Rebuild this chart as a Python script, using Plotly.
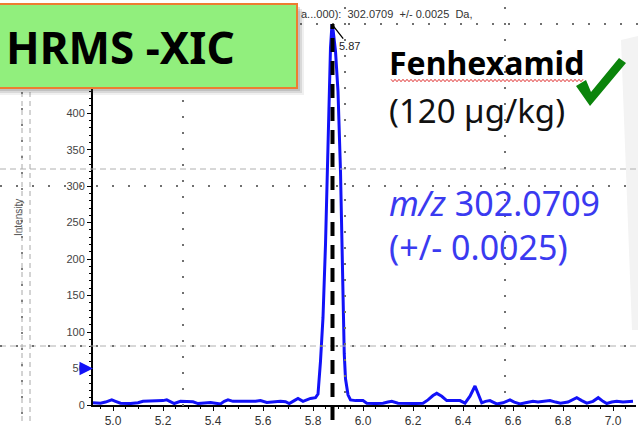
import plotly.graph_objects as go

# Extracted ion chromatogram, m/z 302.0709 (+/- 0.0025 Da)
time_min = [
    4.92, 4.95, 4.97, 4.995, 5.01, 5.03, 5.07, 5.10, 5.12, 5.15, 5.18, 5.20,
    5.215, 5.23, 5.245, 5.27, 5.30, 5.32, 5.34, 5.37, 5.39, 5.41, 5.43, 5.445,
    5.46, 5.48, 5.51, 5.54, 5.57, 5.59, 5.615, 5.64, 5.67, 5.69, 5.705, 5.725,
    5.74, 5.76, 5.775, 5.79, 5.81, 5.82, 5.83, 5.84, 5.85, 5.86, 5.87, 5.876,
    5.88, 5.89, 5.90, 5.91, 5.92, 5.925, 5.93, 5.94, 5.95, 5.97, 6.00, 6.015,
    6.05, 6.08, 6.10, 6.115, 6.14, 6.18, 6.21, 6.24, 6.26, 6.28, 6.295, 6.315,
    6.335, 6.36, 6.388, 6.408, 6.428, 6.448, 6.461, 6.475, 6.49, 6.508, 6.52,
    6.535, 6.56, 6.588, 6.605, 6.628, 6.65, 6.68, 6.70, 6.725, 6.748, 6.77,
    6.79, 6.82, 6.855, 6.875, 6.895, 6.92, 6.941, 6.96, 6.975, 6.995, 7.015,
    7.04, 7.06, 7.08,
]
intensity = [
    3, 2.5, 4, 7, 5, 2.5, 2, 3, 5, 5, 5, 6,
    7, 4, 2, 5, 5, 4.5, 2, 2.5, 3.5, 2.5, 1.5, 5,
    7, 5, 4.5, 5, 5, 6, 3.5, 4.5, 5, 4.5, 2, 6,
    9, 5, 7, 9, 10, 15, 60, 120, 220, 370, 490, 522,
    515, 485, 430, 320, 140, 70, 36, 14, 7, 6, 6, 2.5,
    2, 2.5, 4, 5, 2.5, 2, 2, 2.5, 7, 13, 16, 12,
    6, 6, 6, 2.5, 12, 26, 14, 3, 5, 6, 4,
    1.5, 3, 7, 4, 1.5, 3, 5, 4, 5, 6, 4,
    2.5, 4, 10, 6, 2.5, 5, 10, 5, 2, 4, 5,
    4, 5, 5,
]

peak_rt = 5.876
peak_label = "5.87"
x_ticks = [5.0, 5.2, 5.4, 5.6, 5.8, 6.0, 6.2, 6.4, 6.6, 6.8, 7.0]
y_ticks = [0, 50, 100, 150, 200, 250, 300, 350, 400]

W_PX, H_PX = 638, 425
L, R, T, B = 93, 2, 22, 20
PW, PH = W_PX - L - R, H_PX - T - B


def px(xp):
    return (xp - L) / PW


def py(yp):
    return 1 - (yp - T) / PH


shapes = []


def hline(y, x0, x1, dash, color="#9a9a9a", width=1):
    shapes.append(dict(type="line", xref="paper", yref="paper", x0=px(x0), x1=px(x1),
                       y0=py(y), y1=py(y), line=dict(color=color, width=width, dash=dash),
                       layer="above"))


def vline(x, y0, y1, dash, color="#9a9a9a", width=1):
    shapes.append(dict(type="line", xref="paper", yref="paper", x0=px(x), x1=px(x),
                       y0=py(y0), y1=py(y1), line=dict(color=color, width=width, dash=dash),
                       layer="above"))


DOTS = "2px,14px"
# dashed guide lines
hline(169, 0, 638, "6px,4px", "#b0b0b0")
hline(346, 0, 638, "6px,4px", "#b0b0b0")
vline(22, 92, 425, "5px,4px", "#a8a8a8")
vline(30, 92, 425, "5px,4px", "#a8a8a8")
# dotted guide lines
hline(24, 300, 638, DOTS, "#707070", 2)
hline(186, 0, 638, DOTS, "#707070", 2)
hline(346, 0, 638, DOTS, "#707070", 2)
vline(22, 92, 425, DOTS, "#808080", 2)
vline(183, 100, 415, DOTS, "#707070", 2)
vline(345, 7, 415, DOTS, "#707070", 2)
vline(505, 7, 415, DOTS, "#707070", 2)

# faint grey panel at right edge
shapes.append(dict(type="path", xref="paper", yref="paper", layer="below",
                   path=f"M {px(621)} {py(40)} L {px(638)} {py(36)} L {px(638)} {py(330)} "
                        f"L {px(632)} {py(330)} Z",
                   fillcolor="#f3f3f3", line=dict(width=0)))

# retention time marker
shapes.append(dict(type="line", xref="x", yref="paper", x0=peak_rt + 0.002, x1=peak_rt + 0.002,
                   y0=py(420), y1=py(24), line=dict(color="black", width=4, dash="14px,9px"),
                   layer="above"))

# box shadow
for off, op in [(7, 0.08), (5, 0.12), (3, 0.16)]:
    shapes.append(dict(type="rect", xref="paper", yref="paper", layer="above",
                       x0=px(-2), x1=px(297 + off), y0=py(4 + off), y1=py(88 + off),
                       fillcolor=f"rgba(60,60,60,{op})", line=dict(width=0)))
# title box
shapes.append(dict(type="rect", xref="paper", yref="paper", layer="above",
                   x0=px(-3), x1=px(297), y0=py(4), y1=py(88),
                   fillcolor="#91ef7d", line=dict(color="#ed7d31", width=2)))

# check mark
shapes.append(dict(type="path", xref="paper", yref="paper", layer="above",
                   path=f"M {px(576)} {py(86)} L {px(586)} {py(80)} L {px(591)} {py(92)} "
                        f"L {px(619)} {py(58)} L {px(626)} {py(63)} L {px(590)} {py(106)} Z",
                   fillcolor="#0b840b", line=dict(width=0)))

# wavy underline
pts = []
xw = 391.0
k = 0
while xw <= 583:
    pts.append(f"{px(xw)} {py(80.5 + (1.2 if k % 2 else -1.2))}")
    xw += 2.0
    k += 1
shapes.append(dict(type="path", xref="paper", yref="paper", layer="above",
                   path="M " + " L ".join(pts), line=dict(color="#e03030", width=1)))

fig = go.Figure()
fig.add_trace(go.Scatter(x=time_min, y=intensity, mode="lines",
                         line=dict(color="#1212f8", width=3), showlegend=False,
                         cliponaxis=True))


def label(x, y, text, font, xanchor="center", **kw):
    return dict(xref="paper", yref="paper", x=px(x), y=py(y), text=text,
                xanchor=xanchor, yanchor="middle", showarrow=False, font=font, **kw)


annotations = [
    label(120, 47, "<b>HRMS -XIC</b>", dict(family="Noto Sans", size=44, color="black")),
    label(299, 14, "a...000):  302.0709  +/- 0.0025  Da,",
          dict(family="Liberation Sans", size=11, color="#333333"), xanchor="left"),
    label(387, 63, "<b>Fenhexamid</b>", dict(family="Noto Sans", size=32, color="black"),
          xanchor="left"),
    label(387, 110, "(120 µg/kg)", dict(family="Noto Sans", size=33, color="#111111"),
          xanchor="left"),
    label(387, 203, "<i>m/z</i> 302.0709", dict(family="Noto Sans", size=34, color="#3a3af0"),
          xanchor="left"),
    label(387, 247, "(+/- 0.0025)", dict(family="Noto Sans", size=34, color="#3a3af0"),
          xanchor="left"),
    label(18, 218, "Intensity", dict(family="Liberation Sans", size=10, color="#555555"),
          textangle=-90),
    dict(xref="x", yref="y", x=peak_rt, y=max(intensity), ax=17, ay=22,
         text=peak_label, showarrow=True, arrowhead=0, arrowwidth=1.3,
         arrowcolor="black", standoff=2,
         font=dict(family="Liberation Sans", size=11, color="#222222")),
    dict(xref="x", yref="y", x=4.92, y=50, ax=-11, ay=0, text="", showarrow=True,
         arrowhead=2, arrowsize=0.9, arrowwidth=3, arrowcolor="#1212f8"),
]

fig.update_layout(
    width=W_PX, height=H_PX,
    margin=dict(l=L, r=R, t=T, b=B),
    paper_bgcolor="white", plot_bgcolor="white",
    shapes=shapes, annotations=annotations,
    xaxis=dict(range=[4.92, 7.092], tickvals=x_ticks, ticktext=[f"{v:.1f}" for v in x_ticks],
               showgrid=False, zeroline=False, showline=True, linecolor="black", linewidth=1.5,
               ticks="outside", ticklen=4, tickcolor="black", ticklabelstandoff=0,
               automargin=False,
               minor=dict(dtick=0.05, ticks="outside", ticklen=2, tickcolor="black"),
               tickfont=dict(family="Liberation Sans", size=12, color="#333333")),
    yaxis=dict(range=[0, 525], tickvals=y_ticks, showgrid=False, zeroline=False,
               showline=True, linecolor="black", linewidth=2, automargin=False,
               ticks="outside", ticklen=4, tickcolor="black",
               minor=dict(dtick=10, ticks="outside", ticklen=2, tickcolor="black"),
               tickfont=dict(family="Liberation Sans", size=11, color="#444444")),
)

fig.write_html("out.html")
